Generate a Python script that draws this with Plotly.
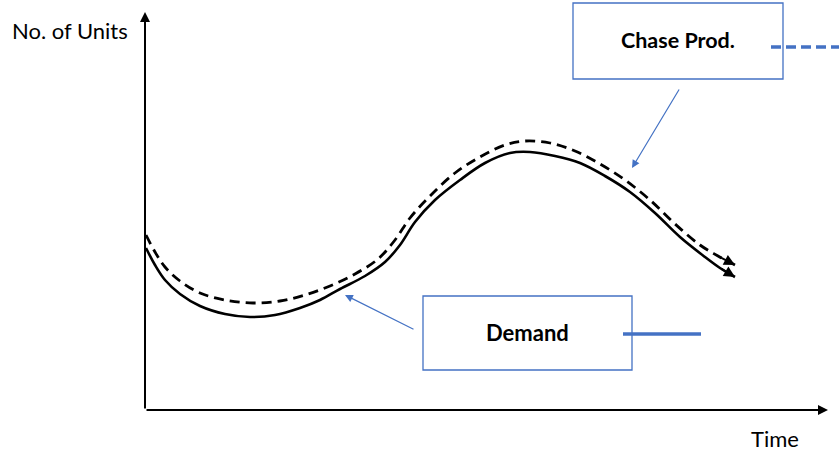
import plotly.graph_objects as go

# Data: time (x) and number of units (y)
demand_t = [1, 10, 20, 35, 55, 80, 105, 130, 155, 175, 195, 220, 240, 255, 270, 290, 315, 340, 365, 385, 410, 435, 460, 485, 510, 535, 560, 575, 590]
demand_u = [162, 145, 130, 116, 104, 96, 93, 95, 102, 110, 121, 134, 148, 165, 188, 210, 230, 247, 257, 258, 254, 247, 234, 218, 197, 173, 153, 142, 133]

chase_t = [1, 10, 20, 35, 55, 80, 108, 135, 160, 185, 210, 233, 250, 265, 285, 310, 335, 360, 380, 405, 430, 455, 480, 505, 530, 555, 573, 590]
chase_u = [175, 158, 143, 129, 117, 110, 107, 109, 115, 124, 136, 151, 170, 192, 214, 237, 253, 265, 269, 267, 259, 246, 230, 210, 186, 165, 154, 145]

x_label = "Time"
y_label = "No. of Units"
demand_label = "Demand"
chase_label = "Chase Prod."

BLUE = "#4472C4"
FONT = "Lato"

fig = go.Figure()

fig.add_trace(go.Scatter(x=demand_t, y=demand_u, mode="lines",
                         line=dict(color="black", width=2.6, shape="spline"),
                         name=demand_label, showlegend=False, hoverinfo="skip"))
fig.add_trace(go.Scatter(x=chase_t, y=chase_u, mode="lines",
                         line=dict(color="black", width=2.8, shape="spline", dash="10px,6px"),
                         name=chase_label, showlegend=False, hoverinfo="skip"))

ann = []
# arrowheads at curve ends
for tt, uu in ((demand_t, demand_u), (chase_t, chase_u)):
    ann.append(dict(x=tt[-1], y=uu[-1], ax=tt[-2], ay=uu[-2], xref="x", yref="y",
                    axref="x", ayref="y", text="", showarrow=True, arrowhead=2,
                    arrowsize=1.1, arrowwidth=2, arrowcolor="black", standoff=0))

# axes with arrows
ann.append(dict(x=683, y=0, ax=0, ay=0, xref="x", yref="y", axref="x", ayref="y",
                text="", showarrow=True, arrowhead=2, arrowsize=1, arrowwidth=2,
                arrowcolor="black", standoff=0))
ann.append(dict(x=0, y=398, ax=0, ay=0, xref="x", yref="y", axref="x", ayref="y",
                text="", showarrow=True, arrowhead=2, arrowsize=1, arrowwidth=2,
                arrowcolor="black", standoff=0))

# axis titles
ann.append(dict(x=-135, y=380, xref="x", yref="y", text=y_label, showarrow=False,
                xanchor="left", yanchor="middle", font=dict(family=FONT, size=22, color="black")))
ann.append(dict(x=630, y=-28, xref="x", yref="y", text=x_label, showarrow=False,
                xanchor="center", yanchor="middle", font=dict(family=FONT, size=22, color="black")))

# callout labels
ann.append(dict(x=533, y=370, xref="x", yref="y", text="<b>" + chase_label + "</b>", showarrow=False,
                xanchor="center", yanchor="middle", font=dict(family=FONT, size=21.5, color="black")))
ann.append(dict(x=382, y=78, xref="x", yref="y", text="<b>" + demand_label + "</b>", showarrow=False,
                xanchor="center", yanchor="middle", font=dict(family=FONT, size=22, color="black")))

# pointer arrows
ann.append(dict(x=487, y=242, ax=535, ay=322, xref="x", yref="y", axref="x", ayref="y",
                text="", showarrow=True, arrowhead=2, arrowsize=1.3, arrowwidth=1.2,
                arrowcolor=BLUE, standoff=0))
ann.append(dict(x=200, y=115, ax=270, ay=80, xref="x", yref="y", axref="x", ayref="y",
                text="", showarrow=True, arrowhead=2, arrowsize=1.3, arrowwidth=1.2,
                arrowcolor=BLUE, standoff=0))

shapes = [
    dict(type="rect", xref="x", yref="y", x0=428, x1=638, y0=331, y1=407,
         line=dict(color=BLUE, width=1.3), fillcolor="rgba(0,0,0,0)"),
    dict(type="rect", xref="x", yref="y", x0=278, x1=487, y0=40, y1=114,
         line=dict(color=BLUE, width=1.3), fillcolor="rgba(0,0,0,0)"),
    dict(type="line", xref="x", yref="y", x0=626, x1=694, y0=363, y1=363,
         line=dict(color=BLUE, width=3.5, dash="10px,5px")),
    dict(type="line", xref="x", yref="y", x0=478, x1=556, y0=76, y1=76,
         line=dict(color=BLUE, width=3.5)),
]

fig.update_layout(
    width=839, height=454,
    margin=dict(l=0, r=0, t=0, b=0),
    paper_bgcolor="white", plot_bgcolor="white",
    xaxis=dict(range=[-145, 694], visible=False, fixedrange=True),
    yaxis=dict(range=[-44, 410], visible=False, fixedrange=True),
    annotations=ann, shapes=shapes, showlegend=False,
)

fig.write_html("out.html", config={"displayModeBar": False},
               post_script="document.body.style.margin='0';document.body.style.overflow='hidden';")
